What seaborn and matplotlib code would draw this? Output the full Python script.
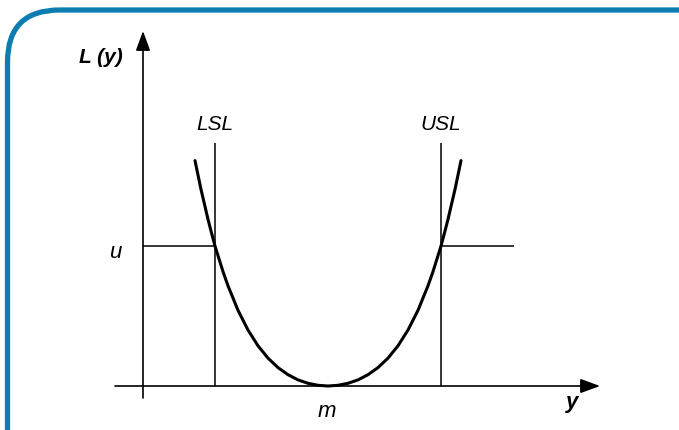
import matplotlib
matplotlib.use('Agg')
import matplotlib.pyplot as plt
import seaborn as sns
from matplotlib.patches import FancyBboxPatch

# loss function L(y) (1 unit = 10 px)
curve_y = [5.2, 5.8, 6.5, 6.85, 7.2, 8.0, 8.5, 9.5, 10.5, 11.5, 12.5, 13.5, 14.5,
           15.5, 16.5, 17.5, 18.5, 19.5, 20.5, 21.5, 22.5, 23.5, 24.5, 25.5, 26.5,
           27.5, 28.5, 29.0, 29.8, 30.15, 30.5, 31.2, 31.8]
curve_L = [22.54, 19.66, 16.67, 15.31, 14.0, 11.44, 10.02, 7.57, 5.60, 4.02, 2.79,
           1.84, 1.13, 0.61, 0.27, 0.07, 0.0, 0.07, 0.27, 0.61, 1.13, 1.84, 2.79,
           4.02, 5.60, 7.57, 10.02, 11.44, 14.0, 15.31, 16.67, 19.66, 22.54]

spec_names = ['LSL', 'USL']
spec_limits = [7.2, 29.8]
spec_top = 24.3
target = 18.5
u_level = 14.0
u_right_end = 37.1

sns.set_theme(style='white')
plt.rcParams['font.family'] = ['Liberation Sans', 'DejaVu Sans']
plt.rcParams['text.color'] = 'black'

fig = plt.figure(figsize=(6.79, 4.31), dpi=100)
ax = fig.add_axes([0, 0, 1, 1])
ax.set_xlim(-14.3, 53.6)
ax.set_ylim(-4.4, 38.7)
ax.axis('off')

# axes with arrows
arrow = dict(arrowstyle='-|>,head_length=0.6,head_width=0.22', color='black',
             lw=1.2, mutation_scale=20, shrinkA=0, shrinkB=0)
ax.annotate('', xy=(45.7, 0), xytext=(-2.8, 0), arrowprops=arrow)
ax.annotate('', xy=(0, 35.5), xytext=(0, -1.2), arrowprops=arrow)

# spec limits and loss level u
ax.vlines(spec_limits, 0, spec_top, color='black', lw=1.1)
ax.hlines(u_level, 0, spec_limits[0], color='black', lw=1.1)
ax.hlines(u_level, spec_limits[1], u_right_end, color='black', lw=1.1)

sns.lineplot(x=curve_y, y=curve_L, sort=False, color='black', lw=2.2,
             ax=ax, legend=False)

for name, xv in zip(spec_names, spec_limits):
    ax.text(xv, 25.65, name, ha='center', va='baseline', fontsize=15,
            style='italic', color='black')
ax.text(-2.8, 12.9, 'u', ha='center', va='baseline', fontsize=16,
        style='italic', color='black')
ax.text(target - 0.1, -3.0, 'm', ha='center', va='baseline', fontsize=16,
        style='italic', color='black')
ax.text(-4.2, 32.4, 'L (y)', ha='center', va='baseline', fontsize=15,
        style='italic', weight='bold', color='black')
ax.text(42.9, -2.15, 'y', ha='center', va='baseline', fontsize=16,
        style='italic', weight='bold', color='black')

# blue rounded frame (pixel coordinates)
fr = fig.add_axes([0, 0, 1, 1], zorder=-1)
fr.set_xlim(0, 679)
fr.set_ylim(431, 0)
fr.axis('off')
fr.add_patch(FancyBboxPatch((7.5, 11), 900, 700,
                            boxstyle='round,pad=0,rounding_size=52',
                            facecolor='none', edgecolor='#0b7db1', lw=3.8,
                            clip_on=True))

fig.savefig('out.png', dpi=100)
